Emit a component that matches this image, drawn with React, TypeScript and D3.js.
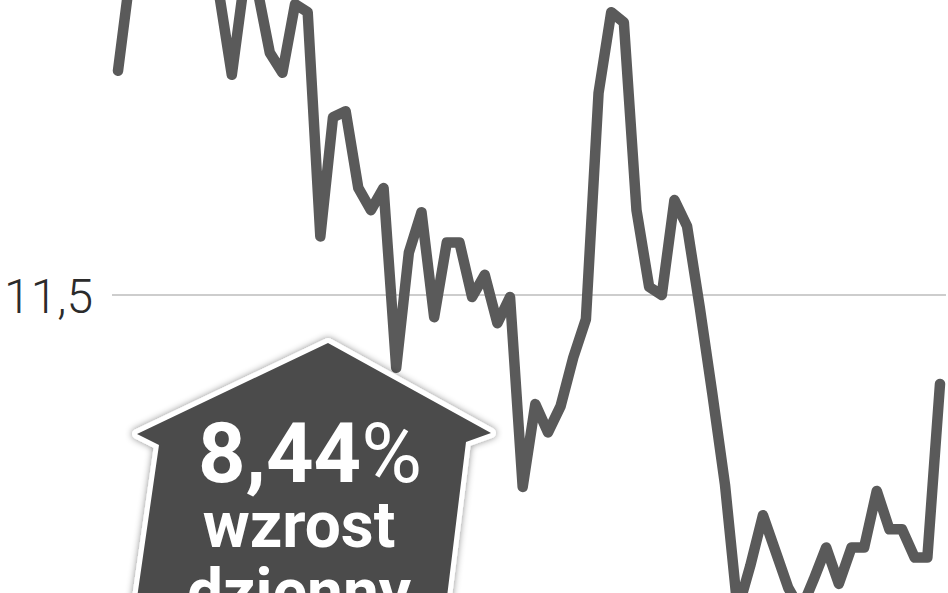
import React from "react";
import * as d3 from "d3";

// Daily closing prices (PLN)
const prices: number[] = [
  12.61, 13.10, 13.26, 13.41, 13.21, 13.36, 13.18, 13.31, 12.99, 12.59,
  13.06, 13.02, 12.70, 12.60, 12.94, 12.90, 11.79, 12.38, 12.41, 12.03,
  11.92, 12.03, 11.14, 11.71, 11.91, 11.39, 11.76, 11.76, 11.49, 11.60,
  11.36, 11.49, 10.55, 10.96, 10.82, 10.95, 11.19, 11.38, 12.50, 12.90,
  12.85, 11.92, 11.54, 11.50, 11.97, 11.84, 11.44, 11.01, 10.56, 9.94,
  10.16, 10.41, 10.23, 10.05, 9.94, 10.09, 10.25, 10.07, 10.25, 10.25,
  10.53, 10.34, 10.34, 10.20, 10.20, 11.06,
];
const yTicks: number[] = [11.5];
const calloutValue = "8,44%";
const calloutLines: string[] = ["wzrost", "dzienny"];

const W = 948;
const H = 593;

export default function App() {
  const x = d3.scaleLinear().domain([0, prices.length - 1]).range([118, 940]);
  const y = d3.scaleLinear().domain([10, 13]).range([598, -8]);
  const fmt = d3.formatLocale({ decimal: ",", thousands: " ", grouping: [3], currency: ["", " zł"] }).format(".1f");
  const line = d3
    .line<number>()
    .x((_, i) => x(i))
    .y((d) => y(d));

  const housePts: [number, number][] = [
    [328, 343],
    [491, 433],
    [466, 442],
    [446, 605],
    [136, 605],
    [159, 445],
    [137, 434],
  ];
  const housePath = "M" + housePts.map((p) => p.join(",")).join("L") + "Z";

  return (
    <svg
      width={W}
      height={H}
      viewBox={`0 0 ${W} ${H}`}
      style={{ position: "absolute", left: 0, top: 0, background: "#fff", overflow: "hidden" }}
    >
      <defs>
        <filter id="shadow" x="-20%" y="-20%" width="140%" height="140%">
          <feDropShadow dx="0" dy="0" stdDeviation="3.5" floodColor="#000" floodOpacity="0.45" />
        </filter>
      </defs>
      {yTicks.map((t) => (
        <g key={t}>
          <line x1={112} x2={946} y1={y(t)} y2={y(t)} stroke="#bcbcbc" strokeWidth={1.6} />
          <text
            x={4}
            y={y(t) + 18}
            fontFamily="Roboto, 'Liberation Sans', sans-serif"
            fontWeight={300}
            fontSize={48}
            fill="#2b2b2b"
          >
            {fmt(t)}
          </text>
        </g>
      ))}
      <path
        d={line(prices) || ""}
        fill="none"
        stroke="#5a5a5a"
        strokeWidth={10.5}
        strokeLinejoin="round"
        strokeLinecap="round"
      />
      <g filter="url(#shadow)">
        <path
          d={housePath}
          fill="#4b4b4b"
          stroke="#ffffff"
          strokeWidth={10}
          strokeLinejoin="round"
          style={{ paintOrder: "stroke" }}
        />
      </g>
      <text
        x={310}
        y={482}
        textAnchor="middle"
        fontFamily="Roboto, 'Liberation Sans', sans-serif"
        fontSize={83}
        fill="#ffffff"
      >
        <tspan fontWeight={700}>{calloutValue.replace("%", "")}</tspan>
        <tspan fontWeight={400}>%</tspan>
      </text>
      {calloutLines.map((t, i) => (
        <text
          key={t}
          x={299}
          y={547 + i * 67}
          textAnchor="middle"
          fontFamily="Roboto, 'Liberation Sans', sans-serif"
          fontWeight={700}
          fontSize={64}
          fill="#ffffff"
        >
          {t}
        </text>
      ))}
    </svg>
  );
}
